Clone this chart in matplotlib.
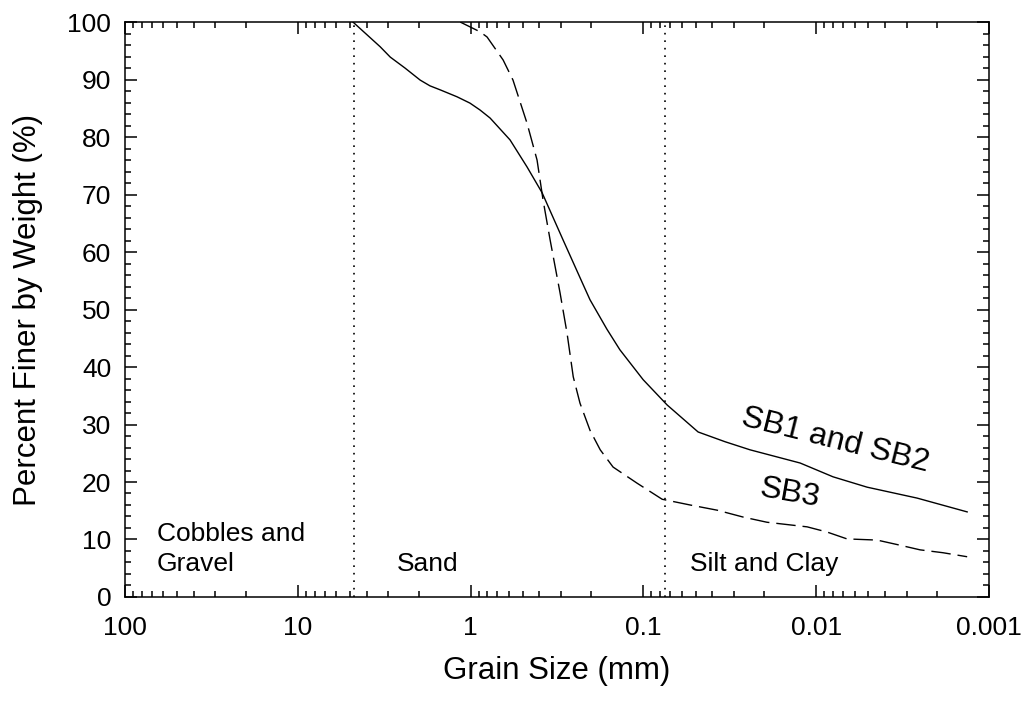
import numpy as np
import matplotlib.pyplot as plt
from matplotlib.ticker import LogLocator, MultipleLocator, FixedLocator, FixedFormatter

plt.rcParams['font.family'] = ['Liberation Sans', 'DejaVu Sans']

# gradation curves: grain size (mm) vs percent finer
sb12_size = [4.80, 3.34, 2.92, 2.40, 1.96, 1.72, 1.50, 1.20, 1.01, 0.883,
             0.772, 0.592, 0.472, 0.386, 0.292, 0.224, 0.204, 0.163, 0.137,
             0.1005, 0.073, 0.0483, 0.0337, 0.0242, 0.0124, 0.0080, 0.00508,
             0.00261, 0.00134]
sb12_pct = [100, 95.7, 93.9, 92.0, 89.9, 88.9, 88.2, 87.0, 85.9, 84.7,
            83.3, 79.5, 74.8, 70.3, 62.1, 54.4, 51.7, 46.6, 43.0,
            37.8, 33.4, 28.7, 27.0, 25.6, 23.3, 20.9, 19.1,
            17.2, 14.8]

sb3_size = [1.15, 0.883, 0.804, 0.649, 0.569, 0.472, 0.413, 0.381, 0.347,
            0.304, 0.277, 0.255, 0.233, 0.204, 0.178, 0.150, 0.109, 0.078,
            0.0537, 0.0375, 0.0265, 0.0193, 0.0113, 0.00867, 0.00664,
            0.00445, 0.00327, 0.00251, 0.00185, 0.00134]
sb3_pct = [100, 98.3, 97.4, 93.4, 89.9, 82.4, 76.0, 69.0, 62.1, 52.9, 45.9,
           38.3, 33.7, 29.0, 25.6, 22.6, 19.8, 17.0, 16.0, 15.1, 13.9, 13.0,
           12.2, 11.3, 10.1, 9.9, 9.0, 8.2, 7.7, 7.0]

# sieve boundaries (No. 4 and No. 200)
bounds = [4.75, 0.075]
tick_vals = [100, 10, 1, 0.1, 0.01, 0.001]
tick_text = ['100', '10', '1', '0.1', '0.01', '0.001']

fig = plt.figure(figsize=(10.25, 7.06), dpi=100)
ax = fig.add_axes([0.122, 0.1544, 0.843, 0.8144])

ax.plot(sb12_size, sb12_pct, color='black', lw=1.0)
ax.plot(sb3_size, sb3_pct, color='black', lw=1.0, dashes=(14, 5))
for b in bounds:
    ax.axvline(b, color='black', lw=1.2, linestyle=(0, (1, 3.5)))

ax.set_xscale('log')
ax.set_xlim(100, 0.001)
ax.set_ylim(0, 100)

ax.xaxis.set_major_locator(FixedLocator(tick_vals))
ax.xaxis.set_major_formatter(FixedFormatter(tick_text))
ax.xaxis.set_minor_locator(LogLocator(base=10, subs=np.arange(2, 10)))
ax.yaxis.set_major_locator(MultipleLocator(10))
ax.yaxis.set_minor_locator(MultipleLocator(2))

ax.tick_params(which='both', direction='in', top=True, right=True,
               labelsize=19, width=1.1)
ax.tick_params(axis='y', pad=10)
ax.tick_params(axis='x', pad=14)
ax.tick_params(which='major', length=8.5)
ax.tick_params(which='minor', length=4.5, labelbottom=False)
for s in ax.spines.values():
    s.set_linewidth(1.1)

ax.set_xlabel('Grain Size (mm)', fontsize=22.5)
ax.set_ylabel('Percent Finer by Weight (%)', fontsize=22.5)
ax.xaxis.set_label_coords(0.5, -0.102)
ax.yaxis.set_label_coords(-0.095, 0.5)

ax.text(65.3, 4.5, 'Cobbles and\nGravel', fontsize=19, ha='left',
        va='baseline', linespacing=1.3)
ax.text(2.67, 4.5, 'Sand', fontsize=19, ha='left', va='baseline')
ax.text(0.0537, 4.5, 'Silt and Clay', fontsize=19, ha='left', va='baseline')
ax.text(0.00778, 27.3, 'SB1 and SB2', fontsize=23, ha='center', va='center',
        rotation=-14)
ax.text(0.0142, 18.1, 'SB3', fontsize=23, ha='center', va='center',
        rotation=-10)

fig.savefig('out.png', dpi=100)
